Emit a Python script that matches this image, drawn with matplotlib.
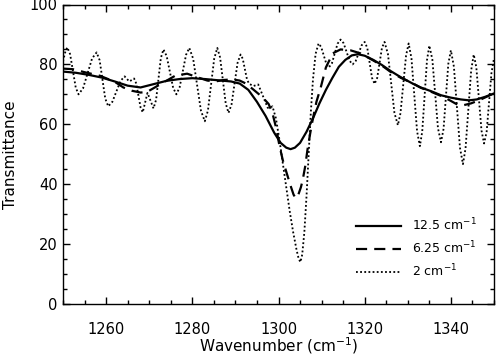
import matplotlib
matplotlib.use("Agg")
import matplotlib.pyplot as plt
from matplotlib.ticker import MultipleLocator

# ---- data ----
wn_125 = [1250, 1253, 1256, 1259, 1262, 1265, 1268, 1271, 1274, 1277, 1280, 1283,
          1286, 1289, 1291, 1293, 1295, 1297, 1298, 1299, 1300.5, 1301.8, 1302.8,
          1303.8, 1305, 1306.5, 1308, 1309.5, 1311, 1312.5, 1314, 1315.5, 1317,
          1318.4, 1320, 1322, 1324, 1326, 1328.4, 1331, 1333, 1335.5, 1337.7, 1340,
          1342.3, 1344.2, 1346, 1348, 1350]
t_125 = [77.6, 77.2, 76.5, 75.6, 74.3, 72.9, 72.3, 73.4, 74.5, 75.1, 75.4, 75.1,
         74.7, 74.3, 73.6, 71.5, 67.5, 62.8, 60.0, 57.2, 53.8, 52.2, 51.7,
         52.2, 53.8, 57.5, 62.0, 67.0, 71.5, 75.5, 79.2, 81.5, 83.0,
         83.4, 82.9, 81.5, 79.8, 77.8, 75.7, 73.7, 72.3, 71.0, 69.7, 68.9,
         68.3, 68.0, 68.3, 69.2, 70.3]

wn_625 = [1250, 1252.3, 1255, 1258.6, 1262, 1264, 1266, 1268, 1269.5, 1271.9, 1274.2,
          1276, 1278.8, 1281.4, 1283.5, 1285.3, 1287.3, 1289.3, 1291, 1292.3, 1294,
          1295.5, 1296.5, 1297.7, 1298.6, 1299.5, 1300.2, 1301.0, 1301.9, 1302.8,
          1303.5, 1304.0, 1304.6, 1305.2, 1305.6, 1306.2, 1306.7, 1307.3, 1307.9,
          1308.8, 1309.8, 1311.0, 1312.6, 1314.4, 1316.7, 1319.0, 1322.0, 1324, 1326,
          1328.4, 1331, 1333, 1335.5, 1338, 1340, 1341.6, 1343, 1344.7, 1346.5, 1348,
          1350]
t_625 = [78.6, 78.4, 77.4, 76.2, 74.2, 72.3, 71.2, 70.6, 70.8, 72.8, 74.7,
         76.2, 76.9, 75.6, 74.6, 74.3, 74.8, 75.0, 74.6, 73.7, 71.8,
         70.0, 68.7, 66.8, 63.7, 58.5, 53.0, 48.0, 43.7, 39.5,
         36.5, 35.3, 36.5, 39.0, 41.3, 46.0, 51.3, 56.5, 61.3,
         67.5, 72.3, 79.0, 83.7, 85.0, 84.7, 83.7, 81.3, 79.6, 77.5,
         75.5, 73.8, 72.2, 70.8, 69.3, 67.8, 66.5, 66.4, 67.0, 68.0, 69.0,
         70.4]

wn_2 = [1250.0, 1250.5, 1251.0, 1251.65, 1252.3, 1252.95, 1253.6, 1254.65, 1255.7,
        1256.75, 1257.8, 1258.5, 1259.15, 1259.8, 1260.5, 1261.45, 1262.4, 1263.35,
        1264.3, 1264.85, 1265.4, 1265.95, 1266.5, 1267.0, 1267.5, 1268.0, 1268.5,
        1269.05, 1269.6, 1270.3, 1271.0, 1271.6, 1272.15, 1272.7, 1273.3, 1274.05,
        1274.8, 1275.55, 1276.3, 1277.05, 1277.8, 1278.55, 1279.3, 1280.2, 1281.1,
        1282.0, 1282.9, 1283.63, 1284.35, 1285.08, 1285.8, 1286.45, 1287.1, 1287.75,
        1288.4, 1289.1, 1289.8, 1290.5, 1291.2, 1291.7, 1292.2, 1292.7, 1293.2,
        1294.2, 1295.3, 1296.4, 1297.5, 1298.05, 1298.6, 1299.4, 1300.2, 1301.0,
        1301.8, 1302.6, 1303.4, 1304.2, 1304.7, 1305.1, 1305.5, 1306.0, 1306.5,
        1307.0, 1307.5, 1308.0, 1308.6, 1309.3, 1309.9, 1310.5, 1311.1, 1311.7,
        1312.4, 1313.05, 1313.7, 1314.4, 1315.1, 1315.8, 1316.5, 1317.2, 1317.9,
        1318.6, 1319.3, 1320.0, 1320.6, 1321.15, 1321.7, 1322.3, 1322.9, 1323.45,
        1324.0, 1324.6, 1325.4, 1326.15, 1326.9, 1327.7, 1328.3, 1328.95, 1329.6,
        1330.2, 1330.85, 1331.5, 1332.15, 1332.8, 1333.35, 1333.9, 1334.45, 1335.0,
        1335.7, 1336.35, 1337.0, 1337.7, 1338.3, 1338.85, 1339.4, 1340.0, 1340.7,
        1341.4, 1342.1, 1342.8, 1343.4, 1344.05, 1344.7, 1345.3, 1345.9, 1346.5,
        1347.1, 1347.7, 1348.3, 1348.85, 1349.4, 1350.0]
t_2 = [81.0, 84.0, 85.7, 83.4, 77.9, 72.3, 70.0, 72.0, 77.0,
       82.0, 84.0, 81.4, 75.0, 68.6, 66.0, 67.5, 71.0, 74.5,
       76.0, 75.1, 74.3, 74.8, 75.3, 73.6, 69.6, 65.6, 64.0,
       67.3, 70.5, 67.9, 65.3, 68.2, 75.2, 82.1, 85.0, 82.8,
       77.5, 72.2, 70.0, 72.3, 77.75, 83.2, 85.5, 81.9, 73.25,
       64.6, 61.0, 64.6, 73.25, 81.9, 85.5, 82.3, 74.65, 67.0,
       63.8, 66.6, 73.55, 80.5, 83.3, 81.9, 78.4, 74.9, 73.5,
       72.8, 73.3, 69.4, 65.5, 65.6, 66.0, 62.0, 55.0, 47.0,
       39.0, 31.0, 24.0, 18.0, 15.0, 14.0, 16.5, 24.0, 36.0,
       50.0, 64.0, 75.0, 83.5, 87.0, 85.8, 83.0, 80.2, 79.0,
       80.4, 83.65, 86.9, 88.3, 87.1, 84.15, 81.2, 80.0, 81.1,
       83.75, 86.4, 87.5, 85.5, 80.5, 75.5, 73.5, 75.5, 80.5,
       85.5, 87.5, 83.4, 73.6, 63.8, 59.7, 63.7, 73.35, 83.0,
       87.0, 82.0, 69.85, 57.7, 52.7, 57.6, 69.5, 81.4, 86.3,
       81.6, 70.15, 58.7, 54.0, 58.5, 69.35, 80.2, 84.7, 79.2,
       65.7, 52.2, 46.7, 52.0, 65.0, 78.0, 83.3, 79.0, 68.45,
       57.9, 53.6, 57.6, 67.3, 77.0, 82.0]

labels = ["12.5 cm$^{-1}$", "6.25 cm$^{-1}$", "2 cm$^{-1}$"]
x_label = "Wavenumber (cm$^{-1}$)"
y_label = "Transmittance"

plt.rcParams['font.family'] = ['DejaVu Sans']
plt.rcParams['mathtext.default'] = 'regular'

fig = plt.figure(figsize=(4.96, 3.56), dpi=100)
ax = fig.add_axes([63/496, 1-304/356, 431/496, 299.5/356])

ax.plot(wn_125, t_125, color='black', lw=1.6, ls='-', label=labels[0])
ax.plot(wn_625, t_625, color='black', lw=1.6, ls=(0, (5, 3.2)), label=labels[1])
ax.plot(wn_2, t_2, color='black', lw=1.3, ls=(0, (1, 1.3)), label=labels[2])

ax.set_xlim(1250, 1350)
ax.set_ylim(0, 100)
ax.xaxis.set_minor_locator(MultipleLocator(5))
ax.yaxis.set_major_locator(MultipleLocator(20))
ax.yaxis.set_minor_locator(MultipleLocator(5))
ax.set_xticks([1260, 1280, 1300, 1320, 1340])
ax.tick_params(which='both', direction='in', top=True, right=True, width=1.0, color='black')
ax.tick_params(which='major', length=5)
ax.tick_params(which='minor', length=3)
ax.tick_params(axis='x', which='major', pad=13, labelsize=10.5)
ax.tick_params(axis='y', which='major', pad=4, labelsize=10.5)
for s in ax.spines.values():
    s.set_linewidth(1.0)

ax.set_xlabel(x_label, fontsize=11, labelpad=-1)
ax.set_ylabel(y_label, fontsize=11, labelpad=8)

leg = ax.legend(loc='center left', bbox_to_anchor=(0.68, 0.187), frameon=False,
                fontsize=9, handlelength=3.6, handletextpad=0.9, labelspacing=0.5,
                borderpad=0, borderaxespad=0)

fig.savefig('out.png', dpi=100)
